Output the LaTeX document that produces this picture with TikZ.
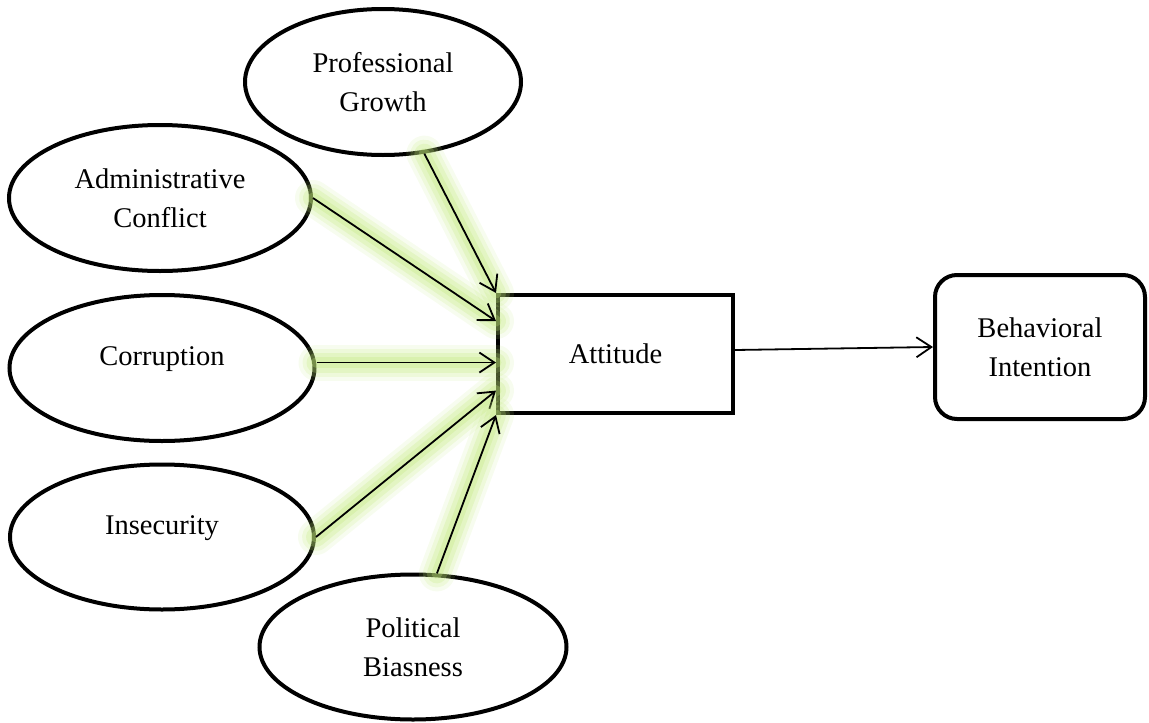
\documentclass[tikz,border=0pt]{standalone}
\usepackage{fontspec}
\setmainfont{Liberation Serif}
\usetikzlibrary{shapes.geometric,arrows.meta,calc}
\definecolor{glowcol}{RGB}{193,232,123}
\begin{document}
\begin{tikzpicture}[x=1pt,y=-1pt,
  every node/.style={font=\fontsize{28.5}{39}\selectfont, align=center, inner sep=0pt},
  oval/.style={ellipse, draw, line width=4pt},
  attbox/.style={rectangle, draw, line width=4pt},
  roundbox/.style={rectangle, rounded corners=22pt, draw, line width=4pt},
  conn/.style={line width=1.8pt, -{Straight Barb[length=15pt,width=20pt,line width=1.8pt]}},
  glow/.style={
    preaction={draw=glowcol, -, line cap=round, line width=36pt, opacity=0.12},
    preaction={draw=glowcol, -, line cap=round, line width=28pt, opacity=0.18},
    preaction={draw=glowcol, -, line cap=round, line width=20pt, opacity=0.24},
    preaction={draw=glowcol, -, line cap=round, line width=11pt, opacity=0.30}},
]
\useasboundingbox (0,0) rectangle (1149,723);

\node[oval, minimum width=276pt, minimum height=146pt] (pg) at (383,82) {Professional\\Growth};
\node[oval, minimum width=302pt, minimum height=146pt] (ac) at (160,198) {Administrative\\Conflict};
\node[oval, minimum width=305pt, minimum height=146pt,
      label={[yshift=9pt]center:Corruption}] (co) at (162,368) {};
\node[oval, minimum width=304pt, minimum height=145pt,
      label={[yshift=9pt]center:Insecurity}] (in) at (162,537) {};
\node[oval, minimum width=307pt, minimum height=145pt] (pb) at (413,647) {Political\\Biasness};
\node[attbox, minimum width=235pt, minimum height=118pt] (att) at (615.5,354) {Attitude};
\node[roundbox, minimum width=210pt, minimum height=144pt] (bi) at (1040,347) {Behavioral\\Intention};

\coordinate (t2) at ($(att.north west)!0.23!(att.south west)$);
\coordinate (t3) at ($(att.north west)!0.57!(att.south west)$);
\coordinate (t4) at ($(att.north west)!0.80!(att.south west)$);

\draw[conn, glow] (pg.-60) -- (att.north west);
\draw[conn, glow] (ac.east) -- (t2);
\draw[conn, glow] (co.east |- t3) -- (t3);
\draw[conn, glow] (in.east) -- (t4);
\draw[conn, glow] (pb.72) -- (att.south west);
\draw[conn] ([yshift=4pt]att.east) -- (bi.west);
\end{tikzpicture}
\end{document}
